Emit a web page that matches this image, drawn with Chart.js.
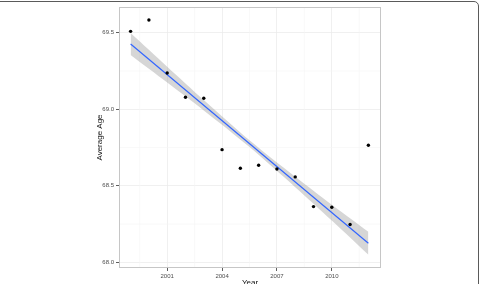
<!DOCTYPE html>
<html lang="en">
<head>
  <meta charset="UTF-8">
  <title>Average Age by Year</title>
  <script src="https://cdn.jsdelivr.net/npm/chart.js"></script>
  <style>
    html, body {
      margin: 0;
      padding: 0;
      background: #ffffff;
      width: 480px;
      height: 284px;
      overflow: hidden;
    }
    .frame {
      position: absolute;
      left: -20px;
      top: 1px;
      width: 499px;
      height: 400px;
      box-sizing: border-box;
      border: 1px solid #5a5a5a;
      border-radius: 5px;
    }
    canvas {
      position: absolute;
      left: 0;
      top: 0;
    }
  </style>
</head>
<body>

<div class="frame"></div>
<canvas id="ageChart" width="480" height="288"></canvas>

<script>
  // observed averages
  const years = [1999, 2000, 2001, 2002, 2003, 2004, 2005, 2006, 2007, 2008, 2009, 2010, 2011, 2012];
  const avgAge = [69.509, 69.583, 69.237, 69.078, 69.072, 68.736, 68.615, 68.634, 68.610, 68.558, 68.364, 68.360, 68.247, 68.765];

  // fitted line (ends) and confidence band
  const fitYears = [1999, 2012];
  const fitAge = [69.426, 68.125];
  const bandYears = [1999, 2001, 2003, 2005.5, 2008, 2010, 2012];
  const bandUpper = [69.498, 69.278, 69.060, 68.797, 68.559, 68.377, 68.200];
  const bandLower = [69.354, 69.174, 68.992, 68.753, 68.491, 68.273, 68.050];

  const xTicks = [2001, 2004, 2007, 2010];
  const yTicks = [68.0, 68.5, 69.0, 69.5];
  const xMinor = [1999.5, 2002.5, 2005.5, 2008.5, 2011.5];
  const yMinor = [68.25, 68.75, 69.25];

  const pts = (xs, ys) => xs.map((x, i) => ({ x: x, y: ys[i] }));

  // panel border + minor grid, ggplot-ish
  const panelPlugin = {
    id: 'panel',
    beforeDatasetsDraw(chart) {
      const { ctx, chartArea: a, scales } = chart;
      ctx.save();
      ctx.strokeStyle = '#f5f5f5';
      ctx.lineWidth = 0.6;
      xMinor.forEach(v => {
        const px = scales.x.getPixelForValue(v);
        ctx.beginPath(); ctx.moveTo(px, a.top); ctx.lineTo(px, a.bottom); ctx.stroke();
      });
      yMinor.forEach(v => {
        const py = scales.y.getPixelForValue(v);
        ctx.beginPath(); ctx.moveTo(a.left, py); ctx.lineTo(a.right, py); ctx.stroke();
      });
      ctx.restore();
    },
    afterDraw(chart) {
      const { ctx, chartArea: a } = chart;
      ctx.save();
      ctx.strokeStyle = '#c6c6c6';
      ctx.lineWidth = 1;
      ctx.strokeRect(a.left + 0.5, a.top + 0.5, a.right - a.left - 1, a.bottom - a.top - 1);
      ctx.restore();
    }
  };

  const ageChart = new Chart(document.getElementById('ageChart'), {
    type: 'scatter',
    data: {
      datasets: [
        {
          label: 'points',
          data: pts(years, avgAge),
          backgroundColor: '#000000',
          borderWidth: 0,
          pointRadius: 1.7,
          order: 0
        },
        {
          label: 'fit',
          type: 'line',
          data: pts(fitYears, fitAge),
          borderColor: '#3366ff',
          borderWidth: 1.2,
          pointRadius: 0,
          fill: false,
          order: 1
        },
        {
          label: 'upper',
          type: 'line',
          data: pts(bandYears, bandUpper),
          borderWidth: 0,
          borderColor: 'rgba(0,0,0,0)',
          backgroundColor: 'rgba(153,153,153,0.4)',
          pointRadius: 0,
          tension: 0.3,
          fill: '+1',
          order: 2
        },
        {
          label: 'lower',
          type: 'line',
          data: pts(bandYears, bandLower),
          borderWidth: 0,
          borderColor: 'rgba(0,0,0,0)',
          pointRadius: 0,
          tension: 0.3,
          fill: false,
          order: 3
        }
      ]
    },
    options: {
      responsive: false,
      animation: false,
      layout: { padding: { left: 93, right: 99, top: 7, bottom: 0 } },
      plugins: { legend: { display: false }, tooltip: { enabled: false } },
      scales: {
        x: {
          type: 'linear',
          min: 1998.365,
          max: 2012.69,
          afterFit: s => { s.height = 20; },
          afterBuildTicks: s => { s.ticks = xTicks.map(v => ({ value: v })); },
          grid: { color: '#ececec', lineWidth: 0.8, tickColor: '#333333', tickLength: 3 },
          border: { display: false },
          ticks: {
            padding: 2,
            color: '#4d4d4d',
            font: { family: 'Liberation Sans', size: 6 },
            callback: v => String(v)
          },
          title: {
            display: true,
            text: 'Year',
            color: '#111111',
            padding: { top: 0, bottom: 0 },
            font: { family: 'Liberation Sans', size: 8 }
          }
        },
        y: {
          min: 67.963,
          max: 69.668,
          afterFit: s => { s.width = 26; },
          afterBuildTicks: s => { s.ticks = yTicks.map(v => ({ value: v })); },
          grid: { color: '#ececec', lineWidth: 0.8, tickColor: '#333333', tickLength: 3 },
          border: { display: false },
          ticks: {
            padding: 2,
            color: '#4d4d4d',
            font: { family: 'Liberation Sans', size: 6 },
            callback: v => v.toFixed(1)
          },
          title: {
            display: true,
            text: 'Average Age',
            color: '#111111',
            padding: { top: 2, bottom: 0 },
            font: { family: 'Liberation Sans', size: 8 }
          }
        }
      }
    },
    plugins: [panelPlugin]
  });
</script>

</body>
</html>
